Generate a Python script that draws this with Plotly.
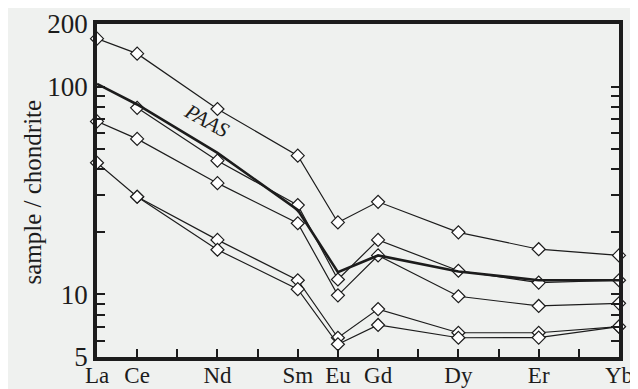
import plotly.graph_objects as go

elements = ["La", "Ce", "Nd", "Sm", "Eu", "Gd", "Dy", "Er", "Yb"]
atomic_numbers = [57, 58, 60, 62, 63, 64, 66, 68, 70]

sample_a = [170, 144, 78, 46.5, 22.2, 27.9, 19.9, 16.5, 15.4]
sample_b = [None, 79, 44, 26.9, 11.8, 18.3, 13.0, 11.4, 11.7]
sample_c = [68, 56, 34.3, 22.0, 9.9, 15.4, 9.8, 8.8, 9.06]
sample_d = [43, 29.5, 18.3, 11.7, 6.19, 8.5, 6.54, 6.54, 7.0]
sample_e = [None, 29.5, 16.4, 10.6, 5.76, 7.13, 6.19, 6.2, 7.0]
paas = [103, 82, 48, 25.5, 12.8, 15.4, 12.9, 11.7, 11.7]

y_tick_vals = [5, 10, 100, 200]
y_tick_text = ["5", "10", "100", "200"]
y_minor_vals = [6, 7, 8, 9, 20, 30, 40, 50, 60, 70, 80, 90]
x_minor_vals = list(range(57, 71))

FONT = "Liberation Serif"
INK = "#1c1c1c"
BG = "#eff1ef"

fig = go.Figure()

for s in [sample_a, sample_b, sample_c, sample_d, sample_e]:
    fig.add_trace(go.Scatter(
        x=atomic_numbers, y=s, mode="lines+markers",
        line=dict(color=INK, width=1.2),
        marker=dict(symbol="diamond", size=10, color="white",
                    line=dict(color=INK, width=1.2)),
        connectgaps=False, showlegend=False, cliponaxis=False))

fig.add_trace(go.Scatter(
    x=atomic_numbers, y=paas, mode="lines",
    line=dict(color=INK, width=2.6), showlegend=False))

fig.add_annotation(x=59.75, y=1.834, xref="x", yref="y", text="<i>PAAS</i>",
                   showarrow=False, textangle=29,
                   font=dict(family=FONT, size=21, color=INK))

fig.add_annotation(x=-0.1245, y=0.494, xref="paper", yref="paper",
                   text="sample / chondrite", showarrow=False, textangle=-90,
                   xanchor="center", yanchor="middle",
                   font=dict(family=FONT, size=25, color=INK))

fig.update_xaxes(
    range=[57, 70], tickvals=atomic_numbers, ticktext=elements,
    ticks="inside", ticklen=8, tickwidth=1.5, tickcolor=INK,
    minor=dict(tickvals=x_minor_vals, ticks="inside", ticklen=8,
               tickwidth=1.5, tickcolor=INK),
    showline=True, linewidth=3.5, linecolor=INK, mirror=True,
    showgrid=False, zeroline=False, automargin=False,
    ticklabelstandoff=-5,
    tickfont=dict(family=FONT, size=23, color=INK))

fig.update_yaxes(
    type="log", range=[0.69897, 2.30103],
    tickvals=y_tick_vals, ticktext=y_tick_text,
    ticks="inside", ticklen=8, tickwidth=1.5, tickcolor=INK,
    minor=dict(tickvals=y_minor_vals, ticks="inside", ticklen=8,
               tickwidth=1.5, tickcolor=INK),
    showline=True, linewidth=3.5, linecolor=INK, mirror="allticks",
    showgrid=False, zeroline=False, automargin=False,
    tickfont=dict(family=FONT, size=27, color=INK))

fig.update_layout(
    width=630, height=381,
    margin=dict(l=89, r=19, t=16, b=32),
    paper_bgcolor=BG, plot_bgcolor=BG)

fig.write_html("out.html")
